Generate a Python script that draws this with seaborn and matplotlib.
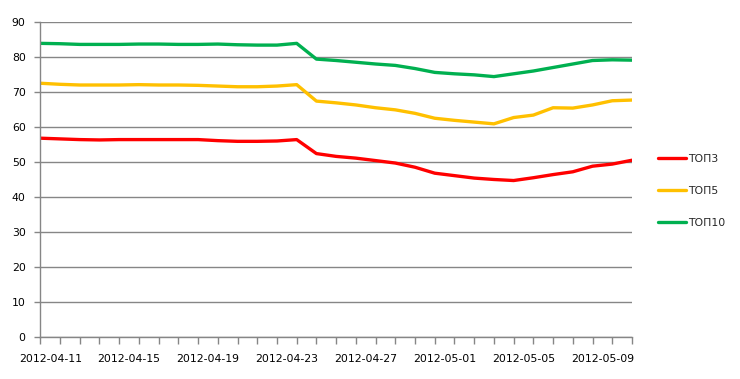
import pandas as pd
import matplotlib.pyplot as plt
import seaborn as sns

sns.set_theme(style="white")
plt.rcParams["font.family"] = ["DejaVu Sans"]

# dates of the points (one per day)
dates = pd.date_range("2012-04-11", periods=31, freq="D").strftime("%Y-%m-%d").tolist()

top3 = [56.9, 56.7, 56.5, 56.4, 56.5, 56.5, 56.5, 56.5, 56.5, 56.2, 56.0, 56.0, 56.1, 56.5,
        52.5, 51.7, 51.2, 50.5, 49.8, 48.6, 46.9, 46.2, 45.5, 45.1, 44.8, 45.6, 46.5, 47.3,
        48.9, 49.5, 50.6]
top5 = [72.6, 72.3, 72.1, 72.1, 72.1, 72.2, 72.1, 72.1, 72.0, 71.8, 71.6, 71.6, 71.8, 72.2,
        67.5, 67.0, 66.4, 65.6, 65.0, 64.0, 62.6, 62.0, 61.5, 61.0, 62.8, 63.5, 65.6, 65.5,
        66.4, 67.6, 67.8]
top10 = [84.0, 83.9, 83.7, 83.7, 83.7, 83.8, 83.8, 83.7, 83.7, 83.8, 83.6, 83.5, 83.5, 84.0,
         79.5, 79.1, 78.6, 78.1, 77.7, 76.8, 75.7, 75.3, 75.0, 74.5, 75.3, 76.1, 77.1, 78.1,
         79.1, 79.3, 79.2]

series = ["ТОП3", "ТОП5", "ТОП10"]
colors = ["#FF0000", "#FFC000", "#00B050"]

rows = []
for name, vals in zip(series, [top3, top5, top10]):
    for i, v in enumerate(vals):
        rows.append({"idx": i, "date": dates[i], "value": v, "series": name})
df = pd.DataFrame(rows)

fig = plt.figure(figsize=(7.4, 3.79), dpi=100)
ax = fig.add_axes([0.0545, 0.110, 0.7995, 0.831])

sns.lineplot(data=df, x="idx", y="value", hue="series", hue_order=series,
             palette=colors, linewidth=2.4, ax=ax, legend=False,
             solid_joinstyle="round", solid_capstyle="round")

grid_c = "#868686"
ax.set_ylim(0, 90)
ax.set_yticks(range(0, 91, 10))
ax.yaxis.grid(True, color=grid_c, linewidth=1)
ax.set_axisbelow(True)
ax.set_xlim(0, len(dates) - 1)

# tick marks between categories, labels every 4 days
ax.set_xticks(range(len(dates)))
ax.set_xticklabels([])
ax.set_xticks([i + 0.5 for i in range(0, len(dates) - 1, 4)], minor=True)
ax.set_xticklabels(dates[0:len(dates) - 1:4], minor=True)
ax.tick_params(axis="x", which="major", direction="out", length=5, width=1, color=grid_c, bottom=True)
ax.tick_params(axis="x", which="minor", length=0, pad=12, labelsize=7.8, labelcolor="black")
ax.tick_params(axis="y", direction="out", length=4.5, width=1, color=grid_c, left=True,
               pad=6, labelsize=7.8, labelcolor="black")

for side in ["top", "right"]:
    ax.spines[side].set_visible(False)
for side in ["left", "bottom"]:
    ax.spines[side].set_color(grid_c)
    ax.spines[side].set_linewidth(1)

ax.set_xlabel("")
ax.set_ylabel("")

handles = [plt.Line2D([], [], color=c, linewidth=2.4) for c in colors]
fig.legend(handles, series, loc="center left", bbox_to_anchor=(0.889, 0.496),
           frameon=False, fontsize=7.8, handlelength=2.6, handletextpad=0.15,
           labelspacing=2.05, borderpad=0, borderaxespad=0)

plt.savefig("out.png", dpi=100)
plt.close()
